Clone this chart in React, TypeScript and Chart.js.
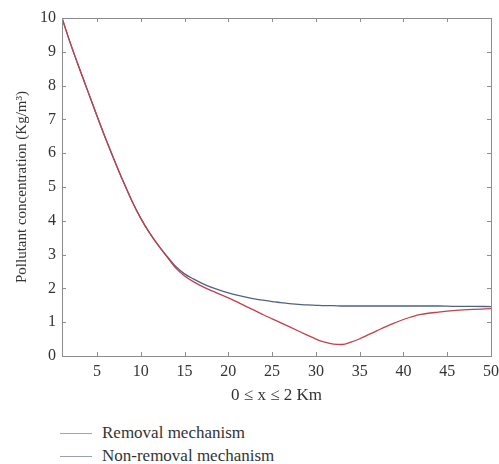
import React, { useEffect, useRef } from "react";
import { Chart, registerables } from "chart.js";

Chart.register(...registerables);

const xValues = [1,2,3,4,5,6,7,8,9,10,11,12,13,14,15,16,17,18,19,20,21,22,23,24,25,26,27,28,29,30,31,32,33,34,35,36,37,38,39,40,42,44,46,48,50];
const removal = [10,9.22,8.5,7.8,7.1,6.42,5.78,5.16,4.58,4.07,3.64,3.27,2.93,2.6,2.37,2.2,2.06,1.94,1.83,1.72,1.6,1.47,1.35,1.22,1.1,0.98,0.86,0.74,0.62,0.5,0.41,0.35,0.34,0.41,0.51,0.63,0.75,0.87,0.98,1.08,1.23,1.3,1.35,1.38,1.4];
const nonRemoval = [10,9.22,8.5,7.8,7.1,6.42,5.78,5.16,4.58,4.07,3.64,3.27,2.95,2.65,2.43,2.28,2.15,2.04,1.95,1.87,1.8,1.74,1.69,1.65,1.61,1.58,1.55,1.53,1.51,1.5,1.49,1.49,1.48,1.48,1.48,1.48,1.48,1.48,1.48,1.48,1.48,1.48,1.47,1.47,1.46];
const xTicks = [5,10,15,20,25,30,35,40,45,50];
const yTicks = [0,1,2,3,4,5,6,7,8,9,10];
const seriesNames = ["Removal mechanism", "Non-removal mechanism"];
const seriesColors = ["#c2414b", "#4f6384"];
const xTitle = "0 ≤ x ≤ 2 Km";
const yTitle = "Pollutant concentration (Kg/m³)";

const FONT = "Liberation Serif";
const FRAME = "#8c8c8c";

const framePlugin = {
  id: "frameTicks",
  afterDraw(chart: any) {
    const { ctx, chartArea, scales } = chart;
    const { left, right, top, bottom } = chartArea;
    ctx.save();
    ctx.strokeStyle = FRAME;
    ctx.lineWidth = 1;
    ctx.strokeRect(Math.round(left) + 0.5, Math.round(top) + 0.5, Math.round(right - left), Math.round(bottom - top));
    const len = 4;
    ctx.beginPath();
    for (const v of xTicks) {
      const px = Math.round(scales.x.getPixelForValue(v)) + 0.5;
      ctx.moveTo(px, bottom);
      ctx.lineTo(px, bottom - len);
      ctx.moveTo(px, top);
      ctx.lineTo(px, top + len);
    }
    for (const v of yTicks) {
      const py = Math.round(scales.y.getPixelForValue(v)) + 0.5;
      ctx.moveTo(left, py);
      ctx.lineTo(left + len, py);
      ctx.moveTo(right, py);
      ctx.lineTo(right - len, py);
    }
    ctx.stroke();
    ctx.restore();
  },
};

function LineChart() {
  const ref = useRef<HTMLCanvasElement | null>(null);
  useEffect(() => {
    if (!ref.current) return;
    const chart = new Chart(ref.current, {
      type: "line",
      data: {
        datasets: [removal, nonRemoval].map((vals, i) => ({
          label: seriesNames[i],
          data: xValues.map((x, j) => ({ x, y: vals[j] })),
          borderColor: seriesColors[i],
          backgroundColor: seriesColors[i],
          borderWidth: 1.3,
          pointRadius: 0,
          cubicInterpolationMode: "monotone" as const,
          fill: false,
        })),
      },
      options: {
        animation: false,
        responsive: false,
        maintainAspectRatio: false,
        layout: { padding: { left: 0, right: 8, top: 18, bottom: 0 } },
        plugins: { legend: { display: false }, tooltip: { enabled: false } },
        scales: {
          x: {
            type: "linear",
            min: 1,
            max: 50,
            afterBuildTicks: (s: any) => { s.ticks = xTicks.map((v) => ({ value: v })); },
            afterFit: (s: any) => { s.height = 56; s.paddingRight = 0; s.paddingLeft = 0; },
            grid: { display: false, drawTicks: false },
            border: { display: false },
            ticks: { color: "#333", font: { family: FONT, size: 16 }, padding: 6, maxRotation: 0, autoSkip: false },
            title: { display: true, text: xTitle, color: "#333", font: { family: FONT, size: 17 }, padding: { top: 0, bottom: 6 } },
          },
          y: {
            type: "linear",
            min: 0,
            max: 10,
            afterBuildTicks: (s: any) => { s.ticks = yTicks.map((v) => ({ value: v })); },
            afterFit: (s: any) => { s.width = 62; s.paddingTop = 0; s.paddingBottom = 0; },
            grid: { display: false, drawTicks: false },
            border: { display: false },
            ticks: { color: "#333", font: { family: FONT, size: 16 }, padding: 6 },
            title: { display: true, text: yTitle, color: "#333", font: { family: FONT, size: 15 }, padding: { top: 13, bottom: 0 } },
          },
        },
      },
      plugins: [framePlugin],
    });
    return () => chart.destroy();
  }, []);
  return <canvas ref={ref} width={499} height={412} style={{ position: "absolute", left: 0, top: 0 }} />;
}

export default function App() {
  return (
    <div style={{ position: "fixed", left: 0, top: 0, width: 499, height: 464, background: "#fff", overflow: "hidden" }}>
      <LineChart />
      {seriesNames.map((name, i) => (
        <div key={name} style={{ position: "absolute", left: 60, top: 423 + i * 23, height: 20, display: "flex", alignItems: "center", fontFamily: FONT, fontSize: 17, color: "#333" }}>
          <span style={{ display: "inline-block", width: 32, height: 0, borderTop: `1px solid ${seriesColors[i]}`, opacity: 0.6, marginRight: 10 }} />
          <span>{name}</span>
        </div>
      ))}
    </div>
  );
}
